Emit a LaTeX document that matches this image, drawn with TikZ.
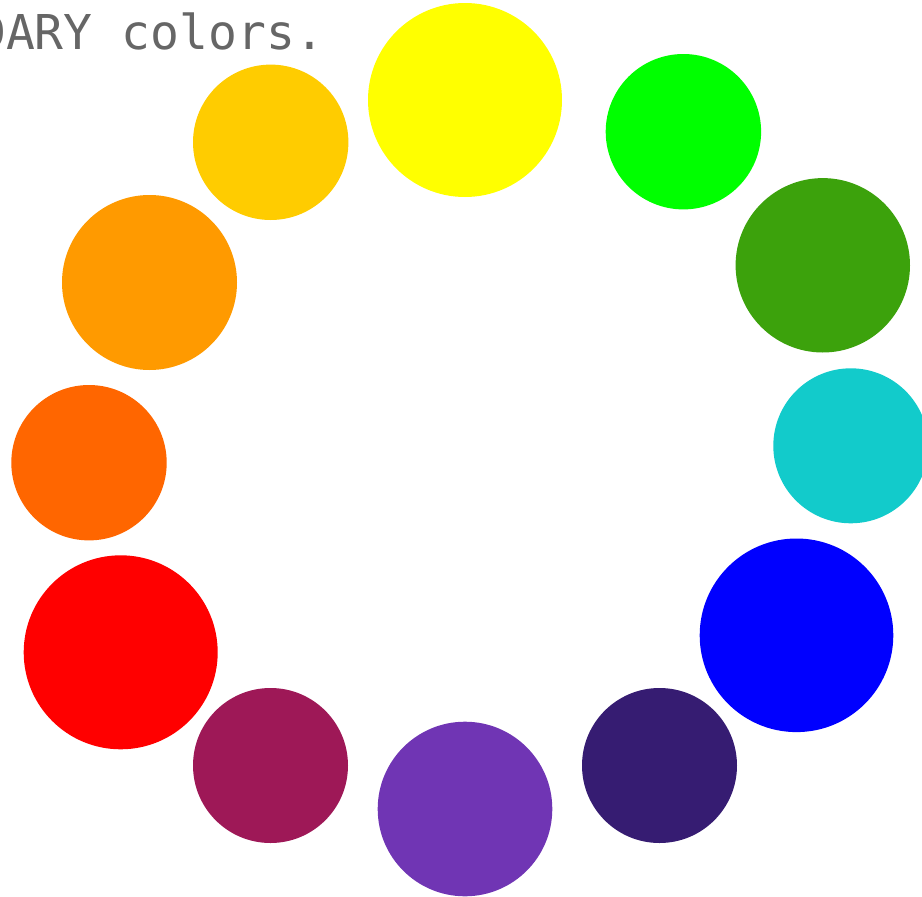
\documentclass[tikz,border=0pt]{standalone}
\usepackage{fontspec}
\setmonofont{DejaVu Sans Mono}
\usepackage{xcolor}
\usepackage{tikz}
\usetikzlibrary{positioning}
\definecolor{wheelgray}{RGB}{102, 102, 102}
\definecolor{wheelyellow}{RGB}{255, 255, 0}
\definecolor{wheellime}{RGB}{0, 255, 0}
\definecolor{wheelgreen}{RGB}{60, 162, 12}
\definecolor{wheelcyan}{RGB}{18, 203, 203}
\definecolor{wheelblue}{RGB}{0, 0, 255}
\definecolor{wheelindigo}{RGB}{54, 28, 114}
\definecolor{wheelviolet}{RGB}{112, 53, 180}
\definecolor{wheelplum}{RGB}{158, 24, 87}
\definecolor{wheelred}{RGB}{255, 0, 0}
\definecolor{wheelvermilion}{RGB}{255, 102, 0}
\definecolor{wheelorange}{RGB}{255, 154, 0}
\definecolor{wheelgold}{RGB}{255, 204, 0}

\begin{document}
\begin{tikzpicture}[x=1pt, y=-1pt,
    dot/.style={circle, inner sep=0pt, draw=none}]
    \useasboundingbox (0,0) rectangle (922,897);
    \clip (0,0) rectangle (922,897);
    % the twelve colours, clockwise from the top
    \foreach \name/\x/\y/\r/\col in {
        yellow/465/100/97/wheelyellow,
        lime/683.4/131.7/77.7/wheellime,
        green/822.8/265.3/87.2/wheelgreen,
        cyan/850.8/445.8/77.5/wheelcyan,
        blue/796.5/635.3/96.8/wheelblue,
        indigo/659.5/765.5/77.5/wheelindigo,
        violet/465/809/87.3/wheelviolet,
        plum/270.5/765.5/77.5/wheelplum,
        red/120.7/652.3/97/wheelred,
        vermilion/89/462.7/77.7/wheelvermilion,
        orange/149.5/282.5/87.5/wheelorange,
        gold/270.7/142.3/77.7/wheelgold}
        \node[dot, fill=\col, minimum size=2*\r pt] (\name) at (\x,\y) {};
    % caption, cut off at the left edge
    \node[anchor=base west, inner sep=0pt, text=wheelgray,
        font=\ttfamily\fontsize{48}{50}\selectfont] (caption) at (-23,49)
        {DARY colors.};
\end{tikzpicture}
\end{document}
